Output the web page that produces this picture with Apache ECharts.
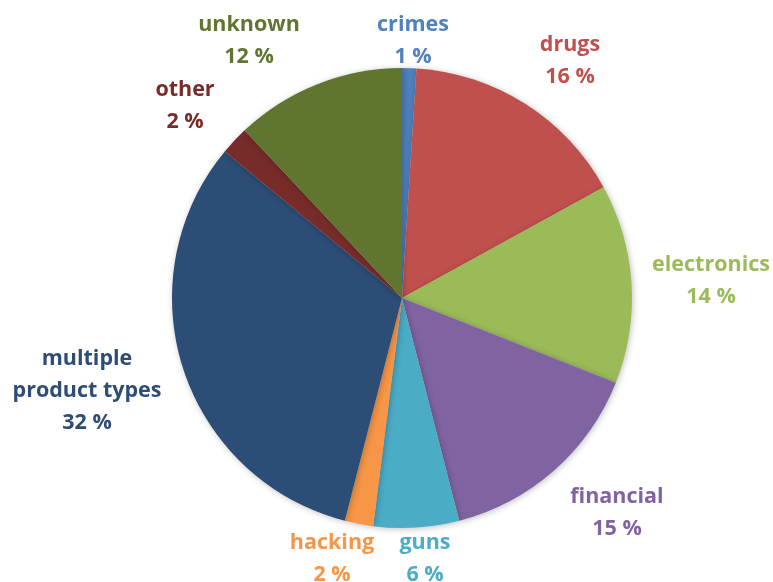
<!DOCTYPE html>
<html>
<head>
<meta charset="utf-8">
<script src="https://cdn.jsdelivr.net/npm/echarts@6/dist/echarts.min.js"></script>
<style>html,body{margin:0;padding:0;background:#fff}#c{width:773px;height:582px}</style>
</head>
<body>
<div id="c"></div>
<script>
const categories = ['crimes','drugs','electronics','financial','guns','hacking','multiple product types','other','unknown'];
const values = [1,16,14,15,6,2,32,2,12];
const colors = ['#4F81BD','#C0504D','#9BBB59','#8064A2','#4BACC6','#F79646','#2C4D75','#772C2A','#5F7530'];
// label block centres (text placement, not marks)
const labelPos = [[413,41],[570,61],[711,281],[617,513],[425,559],[332,559],[87,391],[185,106],[249,41]];

const chart = echarts.init(document.getElementById('c'));
chart.setOption({
  animation:false,
  series:[{
    type:'pie',
    center:[402,298],
    radius:230,
    startAngle:90,
    percentPrecision:0,
    data: categories.map((n,i)=>({name:n,value:values[i],itemStyle:{color:colors[i]},label:{color:colors[i]}})),
    itemStyle:{shadowBlur:6,shadowColor:'rgba(0,0,0,0.25)',shadowOffsetX:1,shadowOffsetY:1},
    label:{
      show:true,position:'outside',overflow:'none',width:300,
      fontFamily:'Open Sans',fontWeight:'bold',fontSize:21.5,lineHeight:32,
      formatter:p=>p.name.replace('multiple ','multiple\n')+'\n'+p.percent+' %'
    },
    labelLine:{show:false},
    labelLayout:p=>({x:labelPos[p.dataIndex][0],y:labelPos[p.dataIndex][1],align:'center',verticalAlign:'middle'})
  }]
});
</script>
</body>
</html>
